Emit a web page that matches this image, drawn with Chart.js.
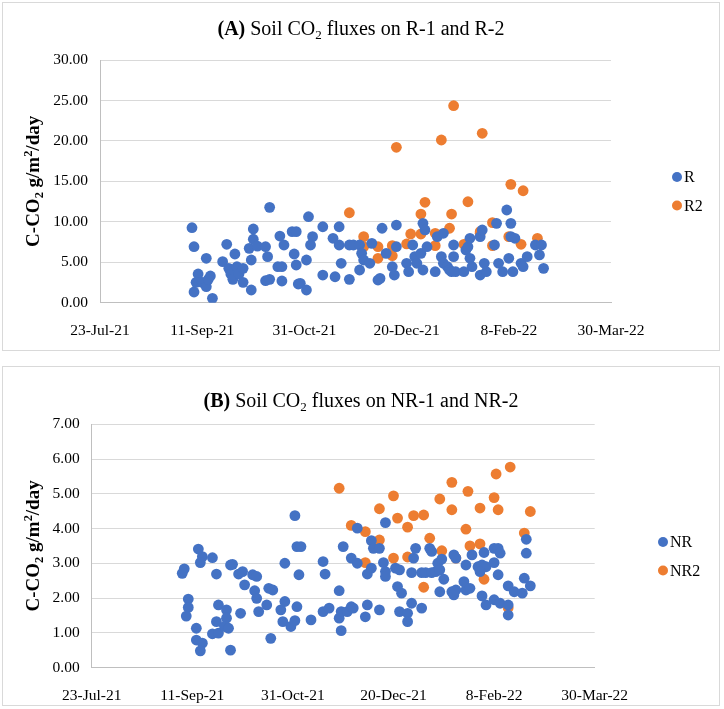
<!DOCTYPE html>
<html>
<head>
<meta charset="utf-8">
<script src="https://cdn.jsdelivr.net/npm/chart.js@4.4.0/dist/chart.umd.min.js"></script>
<style>
    body { margin: 0; background: #fff; }
    .box { position: absolute; left: 2px; width: 716px; border: 1px solid #d9d9d9; background: #fff; }
    #boxA { top: 2px; height: 347px; }
    #boxB { top: 366px; height: 338px; }
</style>
</head>
<body>
<div class="box" id="boxA"><canvas id="chartA"></canvas></div>
<div class="box" id="boxB"><canvas id="chartB"></canvas></div>
<script>
// x values are days since 23-Jul-21
const xTickLabels = ['23-Jul-21', '11-Sep-21', '31-Oct-21', '20-Dec-21', '8-Feb-22', '30-Mar-22'];

// (A) R-1 plot
const rPoints = [
    [45, 9.27], [46, 6.92], [46, 1.32], [48, 3.55], [47, 2.52], [50, 2.52], [52, 5.49], [52, 1.98],
    [54, 3.30], [53, 2.89], [55, 0.54], [60, 5.07], [62, 7.22], [63, 4.25], [64, 3.55], [65, 2.89],
    [66, 6.02], [67, 4.45], [68, 3.55], [70, 4.25], [70, 2.52], [73, 6.72], [74, 5.28], [74, 1.57],
    [75, 9.11], [75, 7.84], [77, 7.00], [81, 6.92], [82, 5.69], [81, 2.72], [83, 2.89], [83, 11.79],
    [87, 4.45], [88, 8.24], [90, 7.13], [89, 2.68], [89, 4.45], [94, 8.78], [95, 6.02], [96, 4.66],
    [96, 8.78], [97, 2.31], [98, 2.40], [101, 1.57], [102, 10.63], [104, 8.16], [103, 7.13], [101, 5.28],
    [109, 3.42], [109, 9.39], [114, 7.96], [117, 9.39], [117, 7.13], [118, 4.87], [115, 3.21], [122, 7.13],
    [124, 7.13], [127, 7.13], [122, 2.89], [127, 4.04], [128, 6.10], [129, 5.28], [132, 4.87], [133, 7.34],
    [136, 2.80], [137, 3.00], [138, 9.20], [140, 6.10], [143, 4.45], [144, 3.42], [145, 9.60], [145, 6.92],
    [150, 4.87], [151, 3.83], [153, 7.13], [154, 5.69], [155, 4.87], [157, 6.10], [158, 9.81], [159, 8.99],
    [158, 4.04], [160, 6.92], [164, 3.83], [165, 8.16], [168, 8.58], [167, 5.69], [168, 4.87], [170, 4.45],
    [171, 4.04], [172, 3.83], [173, 7.13], [173, 5.69], [174, 3.83], [178, 3.83], [179, 6.51], [180, 6.92],
    [181, 7.96], [181, 5.49], [182, 4.45], [186, 8.16], [186, 3.42], [187, 8.99], [188, 4.87], [189, 3.83],
    [193, 7.13], [194, 9.81], [195, 4.87], [197, 3.83], [199, 11.46], [201, 9.81], [201, 8.16], [203, 7.96],
    [200, 5.49], [202, 3.83], [206, 4.87], [207, 4.45], [209, 5.69], [213, 7.13], [216, 7.13], [215, 5.90],
    [217, 4.25]
];

// (A) R-2 plot
const r2Points = [
    [122, 11.12], [129, 8.16], [129, 6.92], [136, 6.92], [136, 5.49], [143, 7.05], [143, 5.81], [145, 19.21],
    [150, 7.26], [152, 8.49], [157, 10.96], [157, 8.49], [159, 12.41], [164, 8.58], [164, 7.05], [167, 20.11],
    [171, 9.20], [172, 10.96], [173, 24.35], [178, 7.22], [179, 7.22], [180, 12.48], [186, 8.58], [186, 8.78],
    [187, 20.94], [192, 9.89], [192, 7.05], [201, 14.63], [200, 8.16], [206, 7.22], [207, 13.84], [214, 7.96]
];

// (B) NR-1 plot
const nrPoints = [
    [45, 2.71], [46, 2.84], [48, 1.97], [48, 1.73], [47, 1.48], [52, 1.13], [53, 3.41], [55, 3.19],
    [54, 3.02], [52, 0.79], [55, 0.70], [54, 0.48], [60, 3.16], [62, 2.69], [63, 1.80], [62, 1.32],
    [60, 0.97], [63, 0.99], [67, 1.66], [67, 1.42], [66, 1.18], [68, 1.13], [69, 0.50], [69, 2.95],
    [70, 2.97], [73, 2.69], [75, 2.76], [74, 1.56], [76, 2.38], [80, 2.67], [82, 2.62], [81, 2.21],
    [82, 1.99], [83, 1.61], [88, 2.28], [90, 2.23], [87, 1.80], [89, 0.84], [94, 1.66], [96, 1.90],
    [95, 1.32], [99, 1.18], [101, 1.35], [96, 3.00], [101, 4.37], [102, 3.48], [104, 3.48], [103, 2.67],
    [102, 1.75], [109, 1.37], [115, 3.05], [116, 2.69], [115, 1.61], [118, 1.71], [123, 2.21], [123, 1.42],
    [124, 1.61], [124, 1.06], [125, 3.48], [127, 1.61], [129, 1.75], [130, 1.71], [129, 3.15], [132, 3.00],
    [132, 4.01], [136, 1.46], [137, 2.69], [139, 2.86], [137, 1.80], [139, 3.65], [140, 3.43], [143, 3.43],
    [143, 1.66], [145, 3.02], [146, 2.76], [146, 2.62], [146, 4.17], [151, 2.86], [153, 2.81], [152, 2.33],
    [154, 2.14], [153, 1.61], [157, 1.56], [157, 1.32], [159, 2.73], [159, 1.85], [160, 3.15], [161, 3.43],
    [164, 2.73], [166, 2.73], [164, 1.71], [168, 3.43], [169, 3.34], [169, 2.73], [171, 2.76], [172, 3.00],
    [174, 3.12], [173, 2.81], [175, 2.54], [173, 2.18], [179, 2.18], [180, 2.09], [181, 2.23], [180, 3.24],
    [181, 3.15], [185, 2.47], [186, 2.23], [188, 2.28], [186, 2.95], [189, 3.24], [194, 2.06], [196, 1.80],
    [195, 3.31], [192, 2.90], [194, 2.95], [196, 2.90], [193, 2.76], [200, 3.43], [202, 3.43], [203, 3.29],
    [200, 3.02], [202, 2.67], [200, 1.95], [203, 1.85], [207, 2.35], [210, 2.18], [214, 2.14], [207, 1.80],
    [207, 1.51], [215, 2.57], [218, 2.35], [216, 3.69], [216, 3.29]
];

// (B) NR-2 plot
const nr2Points = [
    [123, 5.16], [129, 4.09], [136, 3.91], [136, 3.02], [143, 4.57], [143, 3.67], [150, 4.94], [150, 3.15],
    [152, 4.30], [157, 4.04], [157, 3.18], [160, 4.37], [165, 4.39], [165, 2.31], [168, 3.72], [173, 4.85],
    [174, 3.36], [179, 4.54], [179, 5.33], [181, 3.15], [186, 3.98], [187, 5.07], [188, 3.50], [193, 3.56],
    [193, 4.59], [195, 2.54], [200, 4.89], [201, 5.57], [202, 4.54], [207, 1.72], [208, 5.77], [215, 3.87],
    [218, 4.49]
];

const FONT = '"Liberation Serif", "Times New Roman", serif';
const BLUE = '#4472C4';
const ORANGE = '#ED7D31';

function fontFor(run, size) {
    const s = (run.sub || run.sup) ? size * 0.65 : size;
    return (run.b ? 'bold ' : '') + s + 'px ' + FONT;
}

function runsWidth(ctx, runs, size) {
    let w = 0;
    runs.forEach(r => { ctx.font = fontFor(r, size); w += ctx.measureText(r.t).width; });
    return w;
}

// draw a line of mixed text centred on cx, baseline at y
function drawRuns(ctx, runs, cx, y, size) {
    let x = cx - runsWidth(ctx, runs, size) / 2;
    ctx.textAlign = 'left';
    ctx.textBaseline = 'alphabetic';
    runs.forEach(r => {
        ctx.font = fontFor(r, size);
        const dy = r.sub ? size * 0.22 : r.sup ? -size * 0.38 : 0;
        ctx.fillText(r.t, x, y + dy);
        x += ctx.measureText(r.t).width;
    });
}

const yTitleRuns = [
    { t: 'C-CO', b: true }, { t: '2', b: true, sub: true }, { t: ' g/m', b: true },
    { t: '2', b: true, sup: true }, { t: '/day', b: true }
];

// titles, axis title and legend are drawn by hand (mixed bold / subscript)
const extrasPlugin = {
    id: 'extras',
    afterDraw(chart, args, opts) {
        const ctx = chart.ctx;
        const area = chart.chartArea;
        ctx.save();
        ctx.fillStyle = '#000';
        drawRuns(ctx, opts.title, chart.width / 2, opts.titleY, 20);

        ctx.save();
        ctx.translate(opts.yTitleX, (area.top + area.bottom) / 2);
        ctx.rotate(-Math.PI / 2);
        drawRuns(ctx, yTitleRuns, 0, 6, 19);
        ctx.restore();

        opts.legend.forEach((item, i) => {
            const y = opts.legendY + i * opts.legendGap;
            ctx.fillStyle = item.color;
            ctx.beginPath();
            ctx.arc(opts.legendX, y, 5, 0, Math.PI * 2);
            ctx.fill();
            ctx.fillStyle = '#000';
            ctx.font = '16px ' + FONT;
            ctx.textAlign = 'left';
            ctx.textBaseline = 'middle';
            ctx.fillText(item.label, opts.legendX + 7, y + 1);
        });
        ctx.restore();
    }
};

function toXY(points) {
    return points.map(p => ({ x: p[0], y: p[1] }));
}

function makeChart(id, cfg) {
    return new Chart(document.getElementById(id), {
        type: 'scatter',
        data: {
            datasets: [
                { label: cfg.names[0], data: toXY(cfg.series[0]), backgroundColor: BLUE, borderWidth: 0, pointRadius: 5.4 },
                { label: cfg.names[1], data: toXY(cfg.series[1]), backgroundColor: ORANGE, borderWidth: 0, pointRadius: 5.4 }
            ]
        },
        options: {
            responsive: true,
            maintainAspectRatio: false,
            animation: false,
            layout: { padding: { top: cfg.top, right: cfg.right, left: 0, bottom: 0 } },
            plugins: {
                legend: { display: false },
                tooltip: { enabled: false },
                extras: cfg.extras
            },
            scales: {
                x: {
                    type: 'linear',
                    min: 0,
                    max: 250,
                    afterFit: s => { s.height = cfg.xHeight; },
                    grid: { display: false },
                    border: { display: true, color: '#bfbfbf' },
                    ticks: {
                        stepSize: 50,
                        autoSkip: false,
                        maxRotation: 0,
                        padding: 11,
                        color: '#000',
                        font: { family: FONT, size: 15.5 },
                        callback: v => xTickLabels[v / 50]
                    }
                },
                y: {
                    min: 0,
                    max: cfg.yMax,
                    afterFit: s => { s.width = cfg.yWidth; },
                    grid: { color: '#d9d9d9', drawTicks: false },
                    border: { display: true, color: '#bfbfbf' },
                    ticks: {
                        stepSize: cfg.yStep,
                        padding: 12,
                        color: '#000',
                        font: { family: FONT, size: 15.5 },
                        callback: v => v.toFixed(2)
                    }
                }
            }
        },
        plugins: [extrasPlugin]
    });
}

makeChart('chartA', {
    names: ['R', 'R2'],
    series: [rPoints, r2Points],
    yMax: 30, yStep: 5,
    top: 57, right: 108, yWidth: 97, xHeight: 47.3,
    extras: {
        title: [{ t: '(A)', b: true }, { t: ' Soil CO' }, { t: '2', sub: true }, { t: ' fluxes on R-1 and R-2' }],
        titleY: 32,
        yTitleX: 30,
        legend: [{ label: 'R', color: BLUE }, { label: 'R2', color: ORANGE }],
        legendX: 674, legendY: 174, legendGap: 28.5
    }
});

makeChart('chartB', {
    names: ['NR', 'NR2'],
    series: [nrPoints, nr2Points],
    yMax: 7, yStep: 1,
    top: 57.3, right: 124.3, yWidth: 88.7, xHeight: 37.5,
    extras: {
        title: [{ t: '(B)', b: true }, { t: ' Soil CO' }, { t: '2', sub: true }, { t: ' fluxes on NR-1 and NR-2' }],
        titleY: 40,
        yTitleX: 30,
        legend: [{ label: 'NR', color: BLUE }, { label: 'NR2', color: ORANGE }],
        legendX: 660, legendY: 175, legendGap: 28.5
    }
});
</script>
</body>
</html>
